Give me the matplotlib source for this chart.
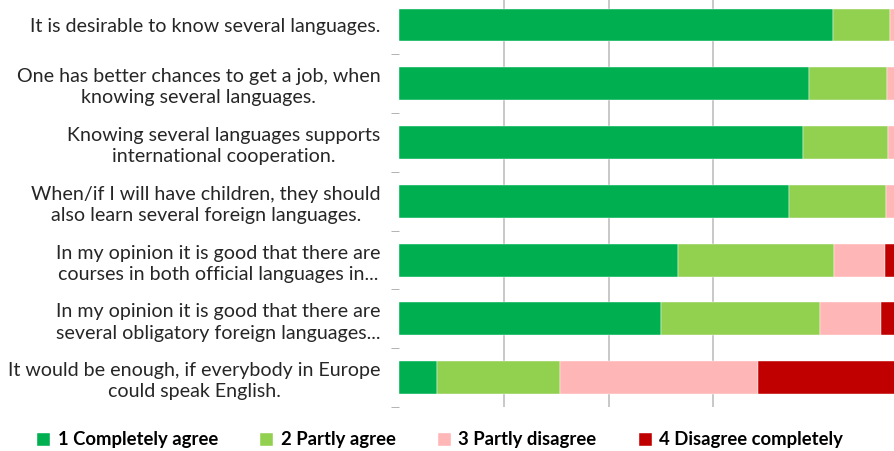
import matplotlib.pyplot as plt
import numpy as np

plt.rcParams['font.family'] = ['Lato', 'DejaVu Sans']

statements = [
    "It is desirable to know several languages.",
    "One has better chances to get a job, when\nknowing several languages.",
    "Knowing several languages supports\ninternational cooperation.",
    "When/if I will have children, they should\nalso learn several foreign languages.",
    "In my opinion it is good that there are\ncourses in both official languages in...",
    "In my opinion it is good that there are\nseveral obligatory foreign languages...",
    "It would be enough, if everybody in Europe\ncould speak English.",
]

# percentages per answer
completely_agree = [82.7, 78.1, 77.1, 74.4, 53.2, 50.0, 7.3]
partly_agree = [11.0, 14.9, 16.1, 18.5, 29.7, 30.3, 23.4]
partly_disagree = [5.0, 5.5, 5.3, 5.6, 9.7, 11.7, 37.8]
disagree_completely = [1.3, 1.5, 1.5, 1.5, 7.4, 8.0, 31.5]

series = [
    ("1 Completely agree", completely_agree, "#00B050"),
    ("2 Partly agree", partly_agree, "#92D050"),
    ("3 Partly disagree", partly_disagree, "#FFB6B6"),
    ("4 Disagree completely", disagree_completely, "#C00000"),
]

fig = plt.figure(figsize=(8.95, 4.51), dpi=100)
# the original is cropped on the right, so the axes run past the figure edge
ax = fig.add_axes([0.4453, 0.0976, 0.5865, 0.9122])

y = np.arange(len(statements))
left = np.zeros(len(statements))
for name, vals, color in series:
    ax.barh(y, vals, left=left, height=0.56, color=color, label=name,
            edgecolor="white", linewidth=0.3, zorder=3)
    left += np.array(vals)

ax.set_xlim(0, 100)
ax.set_ylim(len(statements) - 0.5, -0.5)

ax.set_xticks([20, 40, 60])
ax.xaxis.grid(True, color="#BFBFBF", linewidth=1.2, zorder=0)
ax.tick_params(axis="x", length=0, labelbottom=False)

ax.set_yticks(y)
ax.set_yticklabels(statements, fontsize=14.1, color="#262626",
                   multialignment="center", linespacing=1.3)
ax.set_yticks(np.arange(-0.5, len(statements)), minor=True)
ax.tick_params(axis="y", which="major", length=0, pad=13)
ax.tick_params(axis="y", which="minor", length=6, color="#A6A6A6")

for s in ax.spines.values():
    s.set_visible(False)

fig.legend(loc="center", bbox_to_anchor=(0.492, 1 - 440 / 451), ncol=4,
           frameon=False, prop={"size": 13.3, "weight": "bold"},
           handlelength=0.7, handleheight=0.7, handletextpad=0.4, columnspacing=2.3)

fig.savefig("out.png", dpi=100)
